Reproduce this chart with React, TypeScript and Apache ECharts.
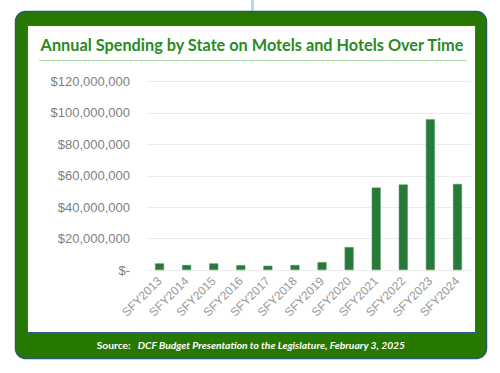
import React, { useEffect, useRef } from "react";
import * as echarts from "echarts";

const categories = ["SFY2013","SFY2014","SFY2015","SFY2016","SFY2017","SFY2018","SFY2019","SFY2020","SFY2021","SFY2022","SFY2023","SFY2024"];
const spending = [4200000,3200000,4200000,3100000,2700000,3200000,5000000,14600000,52500000,54400000,96000000,54800000];
const titleText = "Annual Spending by State on Motels and Hotels Over Time";
const sourceLabel = "Source:";
const sourceText = "DCF Budget Presentation to the Legislature, February 3, 2025";

export default function App() {
  const ref = useRef<HTMLDivElement>(null);
  useEffect(() => {
    const chart = echarts.init(ref.current!, null, { renderer: "svg" });
    chart.setOption({
      animation: false,
      backgroundColor: "#ffffff",
      graphic: [
        { type: "line", z: -100, shape: { x1: 252.5, y1: 0, x2: 252.5, y2: 12 }, style: { stroke: "#b3d4fb", lineWidth: 3 } },
        { type: "rect", z: -100, shape: { x: 15.5, y: 11.5, width: 471, height: 347, r: 10 }, style: { fill: "#267800", stroke: "#2b5a6b", lineWidth: 1.5 } },
        { type: "rect", z: -99, shape: { x: 27.5, y: 25.5, width: 448, height: 307 }, style: { fill: "#ffffff", stroke: "#3c5a9a", lineWidth: 1 } },
        { type: "line", z: -98, shape: { x1: 39, y1: 60.5, x2: 467, y2: 60.5 }, style: { stroke: "#a9d9a2", lineWidth: 1 } },
        {
          type: "text", z: 10, x: 252, y: 44,
          style: {
            text: titleText, align: "center", verticalAlign: "middle",
            fontFamily: "Lato", fontWeight: "bold", fontSize: 16.3, fill: "#2a8a1f",
          },
        },
        {
          type: "text", z: 10, x: 251, y: 345,
          style: {
            text: "{a|" + sourceLabel + "}  {b|" + sourceText + "}",
            align: "center", verticalAlign: "middle",
            rich: {
              a: { fontFamily: "Lato", fontWeight: "bold", fontSize: 10.3, fill: "#ffffff", color: "#ffffff" },
              b: { fontFamily: "Lato", fontWeight: "bold", fontStyle: "italic", fontSize: 10.3, fill: "#ffffff", color: "#ffffff" },
            },
          },
        },
      ],
      grid: { left: 146, right: 29, top: 81.5, bottom: 103, containLabel: false },
      xAxis: {
        type: "category",
        data: categories,
        axisLine: { show: false },
        axisTick: { show: false },
        axisLabel: { rotate: 45, color: "#999999", fontFamily: "Liberation Sans", fontSize: 12, margin: 9, interval: 0 },
      },
      yAxis: {
        type: "value",
        min: 0,
        max: 120000000,
        interval: 20000000,
        axisLine: { show: false },
        axisTick: { show: false },
        splitLine: { lineStyle: { color: "#ececec", width: 1 } },
        axisLabel: {
          color: "#7f7f7f", fontFamily: "Liberation Sans", fontSize: 13, margin: 16,
          formatter: (v: number) => (v === 0 ? "$-" : "$" + v.toLocaleString("en-US")),
        },
      },
      series: [
        {
          type: "bar",
          data: spending,
          barWidth: 9,
          itemStyle: { color: "#277a37", borderColor: "#4f9a5c", borderWidth: 0.5 },
        },
      ],
    });
    return () => chart.dispose();
  }, []);
  return <div ref={ref} style={{ position: "fixed", left: 0, top: 0, width: 500, height: 373 }} />;
}
